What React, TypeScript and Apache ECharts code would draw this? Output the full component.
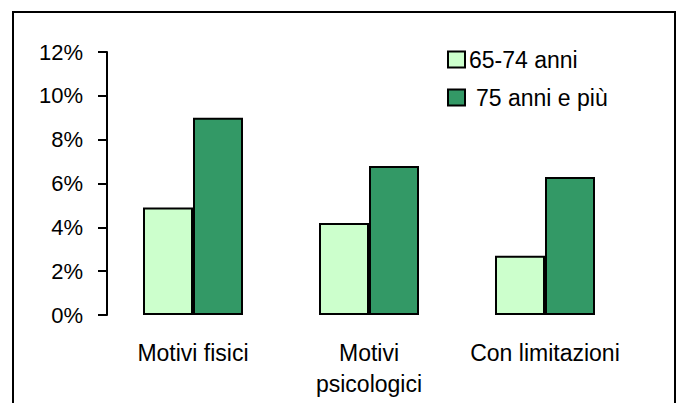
import React, { useEffect, useRef } from "react";
import * as echarts from "echarts";

const categories = ["Motivi fisici", "Motivi\npsicologici", "Con limitazioni"];
const seriesNames = ["65-74 anni", "75 anni e più"];
const values6574 = [4.9, 4.2, 2.7];
const values75 = [9.0, 6.8, 6.3];
const colors = ["#CCFFCC", "#339966"];

export default function App() {
  const ref = useRef<HTMLDivElement>(null);
  useEffect(() => {
    if (!ref.current) return;
    const chart = echarts.init(ref.current, null, { renderer: "svg" });
    const font = "'Liberation Sans', Arial, sans-serif";
    chart.setOption({
      animation: false,
      backgroundColor: "#ffffff",
      textStyle: { fontFamily: font, color: "#000" },
      graphic: [
        {
          type: "rect",
          shape: { x: 13, y: 12, width: 662, height: 420 },
          style: { fill: "none", stroke: "#000", lineWidth: 2 },
          silent: true,
        },
      ],
      legend: {
        orient: "vertical",
        left: 442,
        top: 43,
        itemWidth: 17,
        itemHeight: 16,
        itemGap: 15,
        icon: "rect",
        textStyle: { fontFamily: font, fontSize: 23, color: "#000", padding: [0, 0, 0, -1] },
        data: [
          { name: seriesNames[0] },
          { name: seriesNames[1], textStyle: { padding: [0, 0, 0, 6] } },
        ],
      },
      grid: { left: 105, right: 49, top: 52, bottom: 88, containLabel: false },
      xAxis: {
        type: "category",
        data: categories,
        axisLine: { show: false },
        axisTick: { show: false },
        axisLabel: {
          fontFamily: font,
          fontSize: 23,
          color: "#000",
          margin: 22,
          lineHeight: 31,
          interval: 0,
        },
      },
      yAxis: {
        type: "value",
        min: 0,
        max: 12,
        interval: 2,
        offset: -2,
        splitLine: { show: false },
        axisLine: { show: true, lineStyle: { color: "#000", width: 2 } },
        axisTick: { show: true, length: 9, lineStyle: { color: "#000", width: 2 } },
        axisLabel: {
          fontFamily: font,
          fontSize: 22,
          color: "#000",
          margin: 24,
          formatter: "{value}%",
        },
      },
      series: [
        {
          name: seriesNames[0],
          type: "bar",
          data: values6574,
          barWidth: 50,
          barGap: "0%",
          itemStyle: { color: colors[0], borderColor: "#000", borderWidth: 2 },
        },
        {
          name: seriesNames[1],
          type: "bar",
          data: values75,
          barWidth: 50,
          barGap: "0%",
          itemStyle: { color: colors[1], borderColor: "#000", borderWidth: 2 },
        },
      ],
    });
    return () => chart.dispose();
  }, []);
  return (
    <div
      ref={ref}
      style={{ position: "fixed", left: 0, top: 0, width: 682, height: 403 }}
    />
  );
}
